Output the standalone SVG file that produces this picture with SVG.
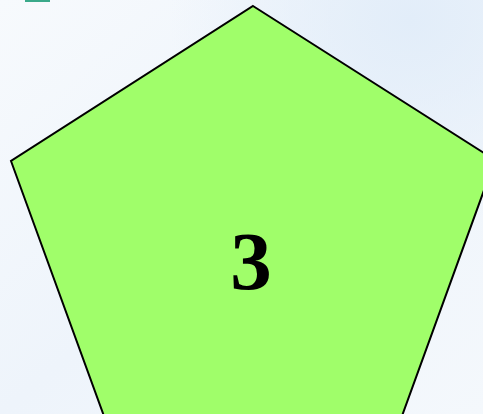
<svg xmlns="http://www.w3.org/2000/svg" width="483" height="414" viewBox="0 0 483 414">
<defs>
<linearGradient id="bg" x1="0" y1="0" x2="1" y2="1">
<stop offset="0" stop-color="#f7fafd"/>
<stop offset="0.5" stop-color="#eef4fb"/>
<stop offset="1" stop-color="#f4f8fc"/>
</linearGradient>
<radialGradient id="glow" cx="0.85" cy="0.05" r="0.5">
<stop offset="0" stop-color="#e2edf9"/>
<stop offset="1" stop-color="#e2edf9" stop-opacity="0"/>
</radialGradient>
<style>
.shape{fill:#a0fe6a;stroke:#000;stroke-width:2;stroke-linejoin:miter}
.lbl{font-family:"Liberation Serif","Times New Roman",serif;font-weight:bold;font-size:83px;fill:#000;text-anchor:middle}
</style>
</defs>
<rect width="483" height="414" fill="url(#bg)"/>
<rect width="483" height="414" fill="url(#glow)"/>
<rect x="25" y="0" width="25" height="2" fill="#3aa98a"/>
<g id="pentagon">
<polygon class="shape" points="253,6 495,160 386,460 120,460 11,161"/>
<text class="lbl" x="251" y="289">3</text>
</g>
</svg>
